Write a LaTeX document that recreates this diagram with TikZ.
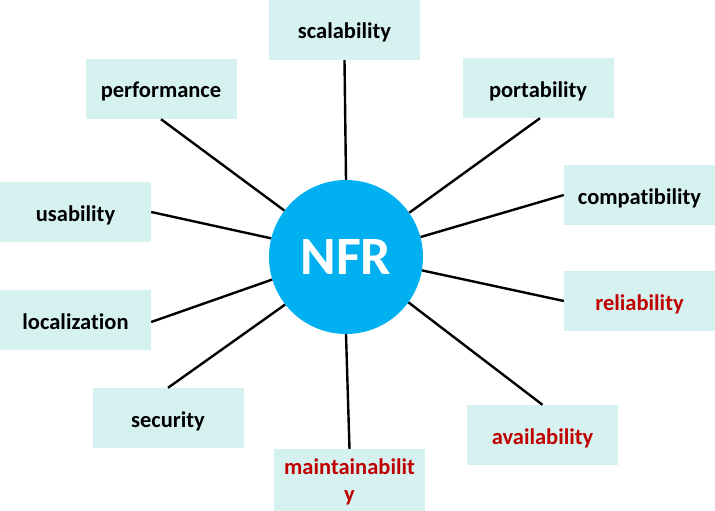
\documentclass[tikz,border=0pt]{standalone}
\usepackage{fontspec}
\setmainfont[Ligatures={NoCommon,NoRequired,NoContextual}]{Carlito}
\definecolor{boxfill}{RGB}{213,242,240}
\definecolor{nfrblue}{RGB}{0,176,240}
\definecolor{darkred}{RGB}{192,0,0}
\begin{document}
\begin{tikzpicture}[x=1pt,y=-1pt,
  reqbox/.style={rectangle, fill=boxfill, minimum width=151pt, minimum height=60pt, inner sep=0pt,
    text height=18pt, text depth=0pt,
    font=\fontsize{22.5}{27}\selectfont\bfseries, text=black},
  redtext/.style={text=darkred},
  link/.style={draw=black, line width=2.4pt}]
\useasboundingbox (0,0) rectangle (715,511);
\node[circle, fill=nfrblue, minimum size=154pt, inner sep=0pt, text=white,
  font=\fontsize{54}{60}\selectfont\bfseries] (c) at (346,257) {NFR};
\node[reqbox] (scal) at (344.5,30) {scalability};
\node[reqbox] (perf) at (161,89) {performance};
\node[reqbox] (port) at (538,88) {portability};
\node[reqbox] (comp) at (639.5,195) {compatibility};
\node[reqbox] (usab) at (75.5,212) {usability};
\node[reqbox, redtext] (reli) at (639.5,301) {reliability};
\node[reqbox] (loca) at (75.5,320) {localization};
\node[reqbox] (secu) at (168,418) {security};
\node[reqbox, redtext] (avai) at (542.5,435) {availability};
\node[reqbox, minimum height=62pt] (main) at (349.5,480) {};
\node[font=\fontsize{22.5}{27}\selectfont\bfseries, text=darkred, align=center, inner sep=0pt,
  anchor=base] (mainlbl) at (349.5,501) {maintainabilit\\y};
\draw[link] (scal.south) -- (c.90);
\draw[link] (perf.south) -- (c.143);
\draw[link] ([xshift=2pt]port.south) -- (c.35);
\draw[link] (comp.west) -- (c.15);
\draw[link] (usab.east) -- (c.166);
\draw[link] (reli.west) -- (c.-10);
\draw[link] ([yshift=-2pt]loca.east) -- (c.197);
\draw[link] (secu.north) -- (c.218);
\draw[link] (avai.north) -- (c.-36);
\draw[link] (main.north) -- (c.270);
\end{tikzpicture}
\end{document}
